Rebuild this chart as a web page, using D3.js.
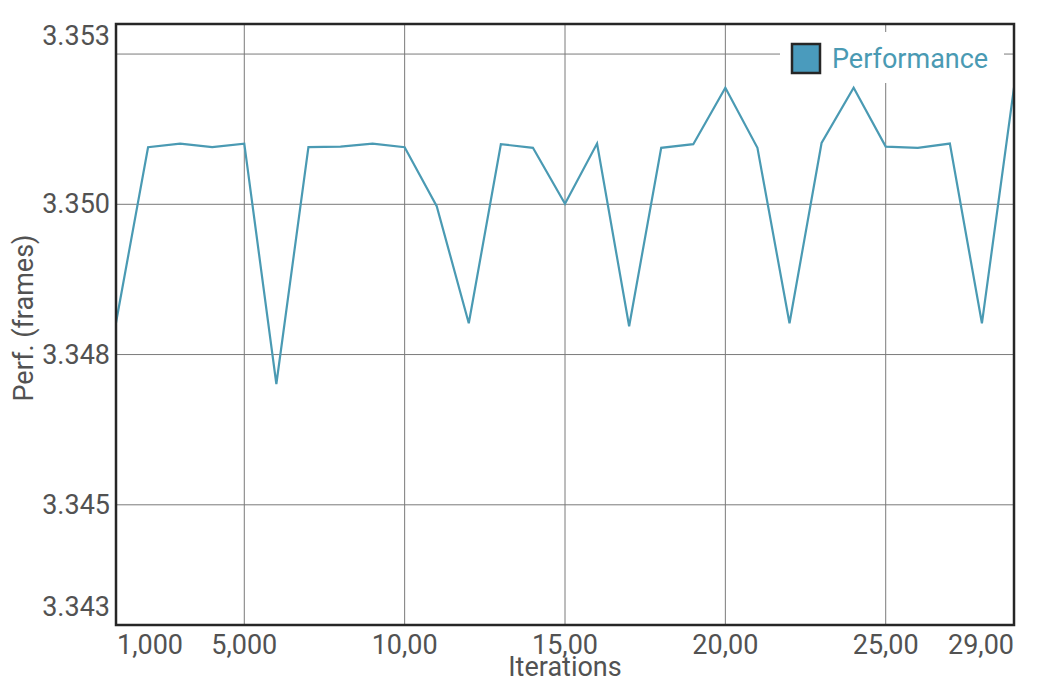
<!DOCTYPE html>
<html>
<head>
<meta charset="utf-8">
<script src="https://cdn.jsdelivr.net/npm/d3@7"></script>
<style>
  html, body { margin: 0; padding: 0; background: #fff; }
  svg text { font-family: Roboto, "Open Sans", sans-serif; }
</style>
</head>
<body>
<svg id="chart" width="1038" height="688"></svg>
<script>
// ---- data ----
const iterations = [1000,2000,3000,4000,5000,6000,7000,8000,9000,10000,11000,12000,13000,14000,15000,16000,17000,18000,19000,20000,21000,22000,23000,24000,25000,26000,27000,28000,29000];
const performance = [3.34803,3.35095,3.35101,3.35095,3.35101,3.34701,3.35095,3.35096,3.35101,3.35095,3.34997,3.34802,3.35100,3.35094,3.35001,3.35101,3.34797,3.35094,3.35100,3.35194,3.35094,3.34802,3.35102,3.35194,3.35096,3.35094,3.35101,3.34802,3.35194];
const xDomain = [1000, 29000];
const yDomain = [3.343, 3.353];
const xGridValues = [5000, 10000, 15000, 20000, 25000];
const yGridValues = [3.345, 3.3475, 3.350, 3.3525];
const xTickValues = [1000, 5000, 10000, 15000, 20000, 25000, 29000];
const xTickLabels = ["1,000", "5,000", "10,00", "15,00", "20,00", "25,00", "29,00"];
const yTickValues = [3.353, 3.350, 3.3475, 3.345, 3.343];
const yTickLabels = ["3.353", "3.350", "3.348", "3.345", "3.343"];
const seriesName = "Performance";
const xTitle = "Iterations";
const yTitle = "Perf. (frames)";

// ---- layout ----
const L = 116, R = 1014, T = 24, B = 625;
const lineColor = "#4a9ab3";
const textColor = "#525252";
const fs = 27;
const svg = d3.select("#chart");

const x = d3.scaleLinear().domain(xDomain).range([L, R]);
const y = d3.scaleLinear().domain(yDomain).range([B, T]);

// grid
const grid = svg.append("g");
grid.selectAll("line.vx").data(xGridValues).enter().append("line")
  .attr("x1", d => x(d)).attr("x2", d => x(d)).attr("y1", T).attr("y2", B)
  .attr("stroke", "#7a7a7a").attr("stroke-width", 1);
grid.selectAll("line.hy").data(yGridValues).enter().append("line")
  .attr("x1", L).attr("x2", R).attr("y1", d => y(d)).attr("y2", d => y(d))
  .attr("stroke", "#7a7a7a").attr("stroke-width", 1);

// line
const line = d3.line().x((d, i) => x(iterations[i])).y(d => y(d));
svg.append("path").datum(performance)
  .attr("d", line)
  .attr("fill", "none")
  .attr("stroke", lineColor)
  .attr("stroke-width", 2.2)
  .attr("stroke-linejoin", "miter");

// frame
svg.append("rect").attr("x", L).attr("y", T).attr("width", R - L).attr("height", B - T)
  .attr("fill", "none").attr("stroke", "#262626").attr("stroke-width", 2.5);

// x tick labels (edge labels clamped inside)
svg.append("g").selectAll("text").data(xTickValues).enter().append("text")
  .attr("x", (d, i) => i === 0 ? L + 1 : (i === xTickValues.length - 1 ? R : x(d)))
  .attr("y", 654)
  .attr("text-anchor", (d, i) => i === 0 ? "start" : (i === xTickValues.length - 1 ? "end" : "middle"))
  .attr("font-size", fs).attr("fill", textColor)
  .text((d, i) => xTickLabels[i]);

// y tick labels (edge labels clamped inside)
svg.append("g").selectAll("text").data(yTickValues).enter().append("text")
  .attr("x", 110)
  .attr("y", (d, i) => i === 0 ? T + 21 : (i === yTickValues.length - 1 ? B - 9 : y(d) + 9))
  .attr("text-anchor", "end")
  .attr("font-size", fs).attr("fill", textColor)
  .text((d, i) => yTickLabels[i]);

// axis titles
svg.append("text").attr("x", (L + R) / 2).attr("y", 676)
  .attr("text-anchor", "middle").attr("font-size", fs).attr("fill", textColor)
  .text(xTitle);
svg.append("text").attr("transform", `translate(33, 318) rotate(-90)`)
  .attr("text-anchor", "middle").attr("font-size", fs).attr("fill", textColor)
  .text(yTitle);

// legend
const lg = svg.append("g");
lg.append("rect").attr("x", 780).attr("y", 32).attr("width", 224).attr("height", 51).attr("fill", "#fff");
lg.append("rect").attr("x", 792).attr("y", 44).attr("width", 28).attr("height", 29)
  .attr("fill", "#4a9bbd").attr("stroke", "#262626").attr("stroke-width", 2.5);
lg.append("text").attr("x", 832).attr("y", 68).attr("font-size", fs).attr("fill", lineColor)
  .text(seriesName);
</script>
</body>
</html>
